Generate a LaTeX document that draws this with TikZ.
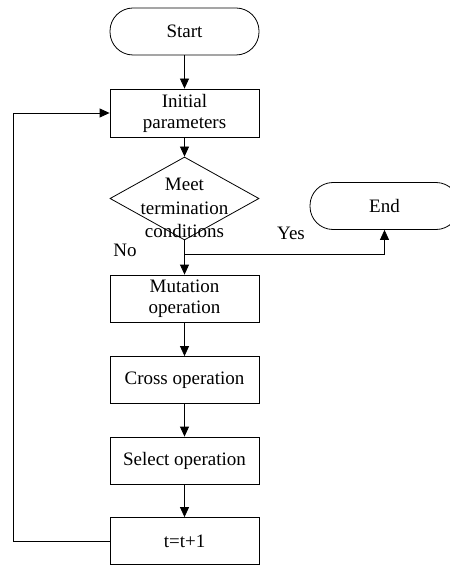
\documentclass[tikz,border=0pt]{standalone}
\usepackage{fontspec}
\setmainfont{Liberation Serif}
\usetikzlibrary{shapes.geometric,arrows.meta}
\begin{document}
\begin{tikzpicture}[x=1bp,y=-1bp,
  every node/.style={font=\fontsize{19bp}{21bp}\selectfont},
  proc/.style={draw,line width=0.8bp,minimum width=149bp,minimum height=47bp,inner sep=0pt,align=center},
  term/.style={proc,rounded corners=23bp},
  arr/.style={line width=0.8bp,-{Triangle[length=10bp,width=9bp]}},
  ln/.style={line width=0.8bp}]
  \clip (0,0) rectangle (450,565);
  \useasboundingbox (0,0) rectangle (450,565);

  % main column of steps
  \node[term] (start) at (184.5,31.5) {Start};
  \node[proc,minimum height=48bp] (init) at (184.5,113) {Initial\\parameters};
  \node[draw,line width=0.8bp,diamond,minimum width=149bp,minimum height=83bp,inner sep=0pt] (dec) at (184.5,198.5) {};
  \node[align=center,font=\fontsize{19bp}{23.5bp}\selectfont] (dect) at (184.5,208) {Meet\\termination\\conditions};
  \node[proc] (mut) at (184.5,298.5) {Mutation\\operation};
  \node[proc] (cross) at (184.5,380) {Cross operation};
  \node[proc] (sel) at (184.5,460.5) {Select operation};
  \node[proc] (inc) at (184.5,541) {t=t+1};
  \node[term] (end) at (384.5,206) {End};

  % branch labels
  \node (no) at (125,250) {No};
  \node (yes) at (291,233) {Yes};

  \coordinate (split) at (184.5,254);
  \coordinate (loopb) at (13,541);
  \coordinate (loopt) at (13,113);

  % connectors
  \draw[arr] (start) -- (init);
  \draw[arr] (init) -- (dec.north);
  \draw[arr] (dec.south) -- (mut);
  \draw[arr] (split) -| (end.south);
  \draw[arr] (mut) -- (cross);
  \draw[arr] (cross) -- (sel);
  \draw[arr] (sel) -- (inc);
  \draw[arr] (inc.west) -- (loopb) -- (loopt) -- (init.west);
\end{tikzpicture}
\end{document}
